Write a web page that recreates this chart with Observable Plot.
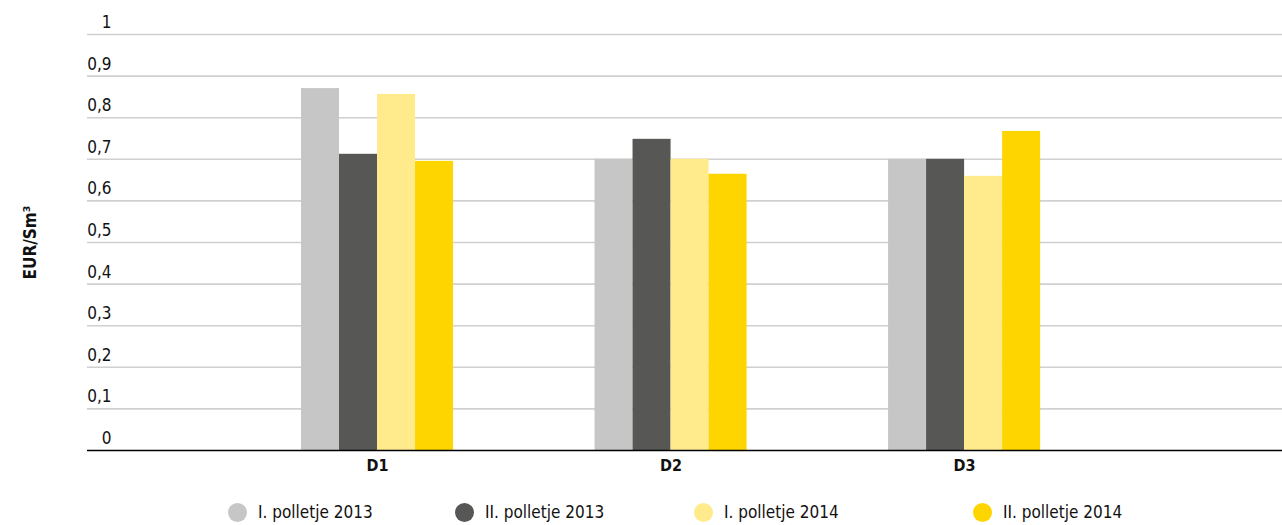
<!DOCTYPE html>
<html>
<head>
<meta charset="utf-8">
<script src="https://cdn.jsdelivr.net/npm/d3@7"></script>
<script src="https://cdn.jsdelivr.net/npm/@observablehq/plot@0.6"></script>
<style>
  body { margin: 0; background: #fff; font-family: "DejaVu Sans Condensed", "DejaVu Sans", sans-serif; }
  #legend { display: flex; align-items: center; margin-top: 12px; padding-left: 228px; font-size: 17px; color: #111; }
  #legend .item { display: flex; align-items: center; flex: none; }
  #legend .dot { width: 19px; height: 19px; border-radius: 50%; margin-right: 11px; }
</style>
</head>
<body>
<div id="chart"></div>
<div id="legend"></div>
<script>
const categories = ["D1", "D2", "D3"];
const seriesNames = ["I. polletje 2013", "II. polletje 2013", "I. polletje 2014", "II. polletje 2014"];
const valuesH1_2013 = [0.870, 0.700, 0.700];
const valuesH2_2013 = [0.712, 0.748, 0.700];
const valuesH1_2014 = [0.856, 0.700, 0.659];
const valuesH2_2014 = [0.695, 0.664, 0.767];
const seriesColors = ["#c6c6c6", "#575756", "#ffea8c", "#ffd500"];
const yTicks = [0, 0.1, 0.2, 0.3, 0.4, 0.5, 0.6, 0.7, 0.8, 0.9, 1];
const yLabel = "EUR/Sm³";

const seriesValues = [valuesH1_2013, valuesH2_2013, valuesH1_2014, valuesH2_2014];
const barW = 0.1295; // bar width in category units
const data = [];
categories.forEach((c, ci) => {
  seriesValues.forEach((vals, si) => {
    const x1 = ci + (si - 2) * barW;
    data.push({category: c, series: seriesNames[si], x1, x2: x1 + barW, value: vals[ci]});
  });
});

const fmt = v => v === 0 ? "0" : v === 1 ? "1" : String(v).replace(".", ",");
const font = '"DejaVu Sans Condensed", "DejaVu Sans", sans-serif';

const chart = Plot.plot({
  width: 1282,
  height: 490,
  marginLeft: 87,
  marginRight: 0,
  marginTop: 34,
  marginBottom: 40,
  style: {fontFamily: font, fontSize: "17px", color: "#111", background: "#fff"},
  x: {type: "linear", domain: [-0.988, 3.083], axis: null},
  y: {domain: [0, 1], axis: null},
  color: {domain: seriesNames, range: seriesColors},
  marks: [
    Plot.ruleY(yTicks.filter(d => d > 0), {stroke: "#d0d0d0", strokeWidth: 1.6}),
    Plot.rectY(data, {x1: "x1", x2: "x2", y: "value", fill: "series", inset: 0}),
    Plot.ruleY([0], {stroke: "#000", strokeWidth: 1.6}),
    Plot.axisY({ticks: yTicks, tickSize: 0, tickFormat: fmt, textAnchor: "end", dx: 33, dy: -12, fontSize: 17, label: null}),
    Plot.text([yLabel], {frameAnchor: "left", textAnchor: "middle", rotate: -90, dx: -57, fontWeight: "bold", fontSize: 17, fill: "#111"}),
    Plot.axisX({ticks: [0, 1, 2], tickFormat: i => categories[i], tickSize: 0, tickPadding: 9, fontWeight: "bold", fontSize: 16, label: null})
  ]
});
document.getElementById("chart").appendChild(chart);

const legendWidths = [227, 239, 279, 200];
const legend = document.getElementById("legend");
seriesNames.forEach((name, i) => {
  const item = document.createElement("div");
  item.className = "item";
  item.style.width = legendWidths[i] + "px";
  const dot = document.createElement("span");
  dot.className = "dot";
  dot.style.background = seriesColors[i];
  const label = document.createElement("span");
  label.textContent = name;
  item.appendChild(dot);
  item.appendChild(label);
  legend.appendChild(item);
});
</script>
</body>
</html>
